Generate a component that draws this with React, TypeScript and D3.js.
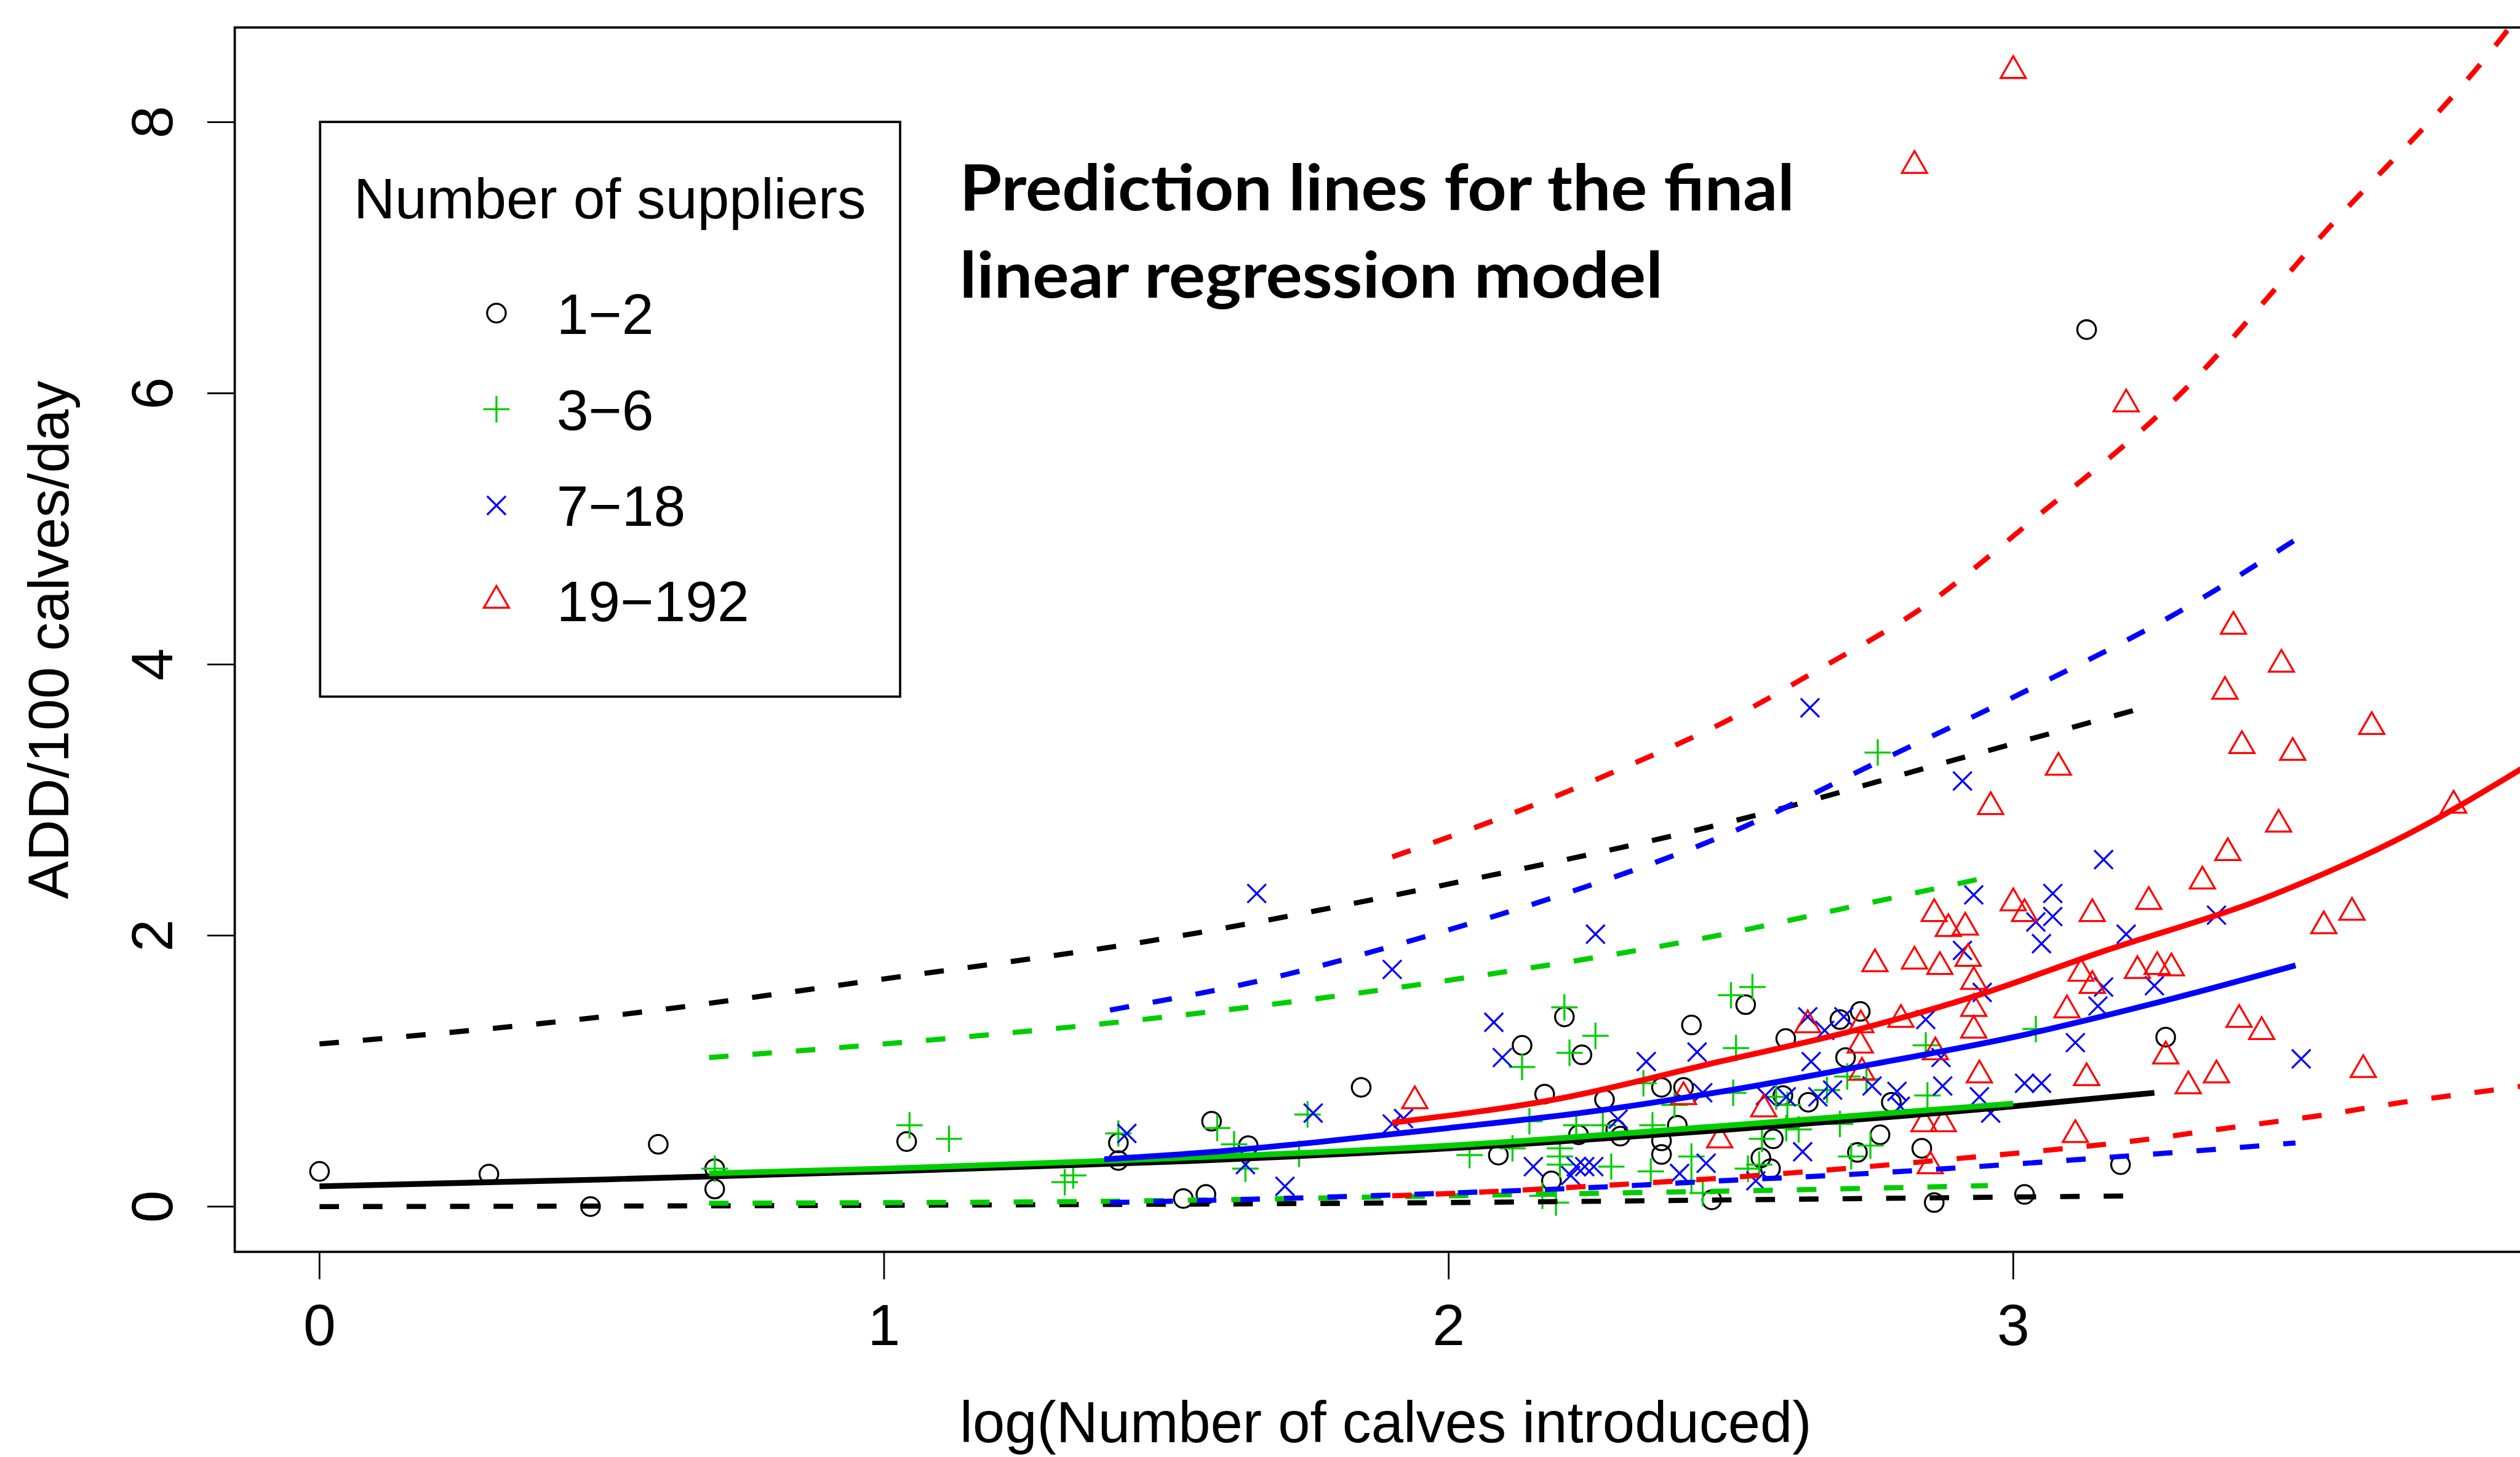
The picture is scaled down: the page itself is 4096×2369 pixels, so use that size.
import React from "react";
import * as d3 from "d3";

// reference is 4401 x 2545, drawn at 0.930 into the 4096 x 2369 window
const S = 4096 / 4401;

const xTicks = [0, 1, 2, 3];
const yTicks = [0, 2, 4, 6, 8];
const groupLabels = ["1\u22122", "3\u22126", "7\u221218", "19\u2212192"];
const groupColors = ["#000000", "#00CD00", "#0000FF", "#FF0000"];

// observed points, [log(calves), ADD/100 calves/day]
const pts12 = [
  [0.0, 0.26], [0.3, 0.24], [0.48, 0.0], [0.6, 0.46], [0.7, 0.28], [0.7, 0.13], [1.04, 0.48],
  [1.415, 0.47], [1.415, 0.34], [1.53, 0.06], [1.57, 0.09], [1.58, 0.63], [1.645, 0.45], [1.845, 0.88],
  [2.088, 0.38], [2.13, 1.19], [2.17, 0.83], [2.182, 0.19], [2.205, 1.4], [2.23, 0.53], [2.236, 1.12],
  [2.276, 0.79], [2.296, 0.57], [2.304, 0.52], [2.377, 0.88], [2.377, 0.485], [2.377, 0.385], [2.405, 0.6],
  [2.416, 0.88], [2.43, 1.34], [2.466, 0.05], [2.526, 1.49], [2.553, 0.36], [2.57, 0.28], [2.575, 0.5],
  [2.592, 0.82], [2.597, 1.24], [2.637, 0.77], [2.693, 1.38], [2.703, 1.1], [2.724, 0.4], [2.729, 1.44],
  [2.764, 0.53], [2.784, 0.77], [2.838, 0.43], [2.86, 0.03], [3.02, 0.09], [3.13, 6.47], [3.19, 0.31],
  [3.27, 1.25],
];
const pts36 = [
  [0.7, 0.28], [1.045, 0.6], [1.115, 0.5], [1.32, 0.18], [1.335, 0.23], [1.415, 0.54], [1.59, 0.58],
  [1.62, 0.46], [1.64, 0.28], [1.735, 0.39], [1.75, 0.68], [2.037, 0.38], [2.113, 0.43], [2.13, 1.03],
  [2.143, 0.63], [2.166, 0.08], [2.19, 0.03], [2.197, 0.43], [2.197, 0.37], [2.197, 0.31], [2.205, 1.47],
  [2.214, 1.135], [2.226, 0.6], [2.26, 1.26], [2.273, 0.6], [2.288, 0.295], [2.345, 0.91], [2.358, 0.26],
  [2.361, 0.6], [2.4, 0.75], [2.43, 0.37], [2.43, 0.19], [2.45, 0.1], [2.5, 1.56], [2.504, 0.84],
  [2.509, 1.17], [2.53, 0.28], [2.538, 1.62], [2.55, 0.31], [2.555, 0.5], [2.58, 0.81], [2.598, 0.58],
  [2.6, 0.75], [2.62, 0.57], [2.67, 0.86], [2.693, 0.61], [2.706, 0.96], [2.713, 0.37], [2.74, 0.94],
  [2.747, 0.45], [2.76, 3.35], [2.845, 1.19], [2.848, 0.82], [3.04, 1.31],
];
const pts718 = [
  [1.43, 0.54], [1.64, 0.31], [1.66, 2.31], [1.71, 0.15], [1.76, 0.69], [1.9, 1.75], [1.9, 0.61],
  [1.92, 0.65], [2.08, 1.36], [2.095, 1.1], [2.15, 0.295], [2.216, 0.23], [2.226, 0.295], [2.241, 0.295],
  [2.257, 0.295], [2.26, 2.01], [2.3, 0.645], [2.35, 1.07], [2.409, 0.245], [2.44, 1.14], [2.45, 0.84],
  [2.456, 0.32], [2.544, 0.19], [2.561, 0.82], [2.598, 0.81], [2.627, 0.405], [2.636, 1.4], [2.64, 3.68],
  [2.642, 1.07], [2.654, 0.81], [2.666, 1.3], [2.68, 0.86], [2.7, 1.4], [2.75, 0.89], [2.794, 0.85],
  [2.8, 0.74], [2.845, 1.38], [2.872, 1.1], [2.875, 0.89], [2.91, 3.14], [2.91, 1.89], [2.93, 2.3],
  [2.94, 0.81], [2.945, 1.58], [2.96, 0.69], [3.02, 0.91], [3.04, 2.1], [3.05, 1.94], [3.05, 0.91],
  [3.07, 2.31], [3.07, 2.14], [3.11, 1.21], [3.15, 1.48], [3.16, 2.56], [3.16, 1.62], [3.2, 2.01],
  [3.25, 1.63], [3.36, 2.15], [3.51, 1.09],
];
const pts19192 = [
  [1.94, 0.78], [2.416, 0.81], [2.48, 0.49], [2.558, 0.72], [2.636, 1.34], [2.729, 1.19], [2.73, 1.34],
  [2.732, 0.99], [2.755, 1.79], [2.801, 1.38], [2.825, 1.81], [2.825, 7.68], [2.842, 0.61], [2.853, 0.3],
  [2.862, 1.14], [2.86, 2.16], [2.876, 0.61], [2.87, 1.77], [2.885, 2.05], [2.915, 2.06], [2.92, 1.83],
  [2.93, 1.66], [2.93, 1.46], [2.93, 1.3], [2.94, 0.97], [2.96, 2.95], [3.0, 8.38], [3.0, 2.24],
  [3.02, 2.16], [3.08, 3.24], [3.095, 1.45], [3.11, 0.53], [3.12, 1.72], [3.13, 0.95], [3.14, 2.16],
  [3.14, 1.63], [3.2, 5.92], [3.22, 1.74], [3.24, 2.25], [3.255, 1.77], [3.27, 1.11], [3.28, 1.76],
  [3.31, 0.89], [3.335, 2.4], [3.36, 0.97], [3.375, 3.8], [3.38, 2.61], [3.39, 4.28], [3.4, 1.38],
  [3.405, 3.4], [3.44, 1.29], [3.47, 2.82], [3.475, 4.0], [3.495, 3.35], [3.55, 2.07], [3.6, 2.17],
  [3.62, 1.01], [3.635, 3.54], [3.78, 2.96],
];

// prediction lines (fit, lower, upper)
const fit12 = [[0, 0.15], [0.5, 0.2], [1, 0.26], [1.5, 0.33], [2, 0.43], [2.5, 0.57], [3, 0.74], [3.25, 0.84]];
const lo12 = [[0, 0.0], [1, 0.01], [2, 0.03], [2.74, 0.06], [3.23, 0.08]];
const hi12 = [[0, 1.2], [0.5, 1.4], [1, 1.68], [1.5, 1.98], [2, 2.38], [2.5, 2.84], [2.9, 3.3], [3.23, 3.68]];

const fit36 = [[0.69, 0.245], [1, 0.28], [1.41, 0.34], [2, 0.45], [2.5, 0.6], [3.0, 0.76]];
const lo36 = [[0.69, 0.025], [1.4, 0.04], [2, 0.08], [2.74, 0.135], [2.955, 0.155]];
const hi36 = [[0.69, 1.1], [1, 1.2], [1.5, 1.4], [2, 1.67], [2.5, 2.02], [2.7, 2.2], [2.955, 2.43]];

const fit718 = [[1.39, 0.35], [1.6, 0.41], [1.8, 0.49], [2, 0.58], [2.25, 0.7], [2.5, 0.86], [2.75, 1.05], [3, 1.25], [3.25, 1.5], [3.5, 1.78]];
const lo718 = [[1.4, 0.03], [1.7, 0.06], [2, 0.1], [2.25, 0.14], [2.48, 0.19], [2.7, 0.235], [2.88, 0.28], [3.04, 0.325], [3.19, 0.37], [3.35, 0.42], [3.5, 0.47]];
const hi718 = [[1.4, 1.45], [1.7, 1.7], [1.94, 1.97], [2.2, 2.3], [2.5, 2.76], [2.77, 3.3], [3.03, 3.82], [3.29, 4.38], [3.5, 4.92]];

const fit19192 = [[1.9, 0.62], [2.2, 0.8], [2.48, 1.07], [2.7, 1.28], [2.93, 1.55], [3.15, 1.87], [3.46, 2.3], [3.7, 2.75], [3.92, 3.28]];
const lo19192 = [[1.9, 0.08], [2.02, 0.1], [2.25, 0.15], [2.48, 0.21], [2.7, 0.28], [2.915, 0.36], [3.07, 0.42], [3.225, 0.49], [3.38, 0.58], [3.54, 0.67], [3.69, 0.77], [3.85, 0.86], [3.92, 0.9]];
const hi19192 = [[1.9, 2.58], [2.1, 2.88], [2.3, 3.22], [2.5, 3.6], [2.65, 3.95], [2.85, 4.45], [3.03, 5.05], [3.29, 5.97], [3.55, 7.18], [3.87, 8.65], [3.95, 9.1]];

const seriesPts = [pts12, pts36, pts718, pts19192];
const seriesLines = [
  [fit12, lo12, hi12],
  [fit36, lo36, hi36],
  [fit718, lo718, hi718],
  [fit19192, lo19192, hi19192],
];

const FONT = "'Liberation Sans', Arial, sans-serif";
const PCH = 16.3; // symbol radius, reference px

function marker(kind: number, cx: number, cy: number, color: string, key: string) {
  const sw = 3.5;
  if (kind === 0) {
    return <circle key={key} cx={cx} cy={cy} r={PCH} fill="none" stroke={color} strokeWidth={sw} />;
  }
  if (kind === 1) {
    const h = PCH * Math.SQRT2;
    return (
      <path key={key} d={`M${cx - h},${cy}H${cx + h}M${cx},${cy - h}V${cy + h}`}
        stroke={color} strokeWidth={sw} fill="none" />
    );
  }
  if (kind === 2) {
    const h = PCH;
    return (
      <path key={key} d={`M${cx - h},${cy - h}L${cx + h},${cy + h}M${cx - h},${cy + h}L${cx + h},${cy - h}`}
        stroke={color} strokeWidth={sw} fill="none" />
    );
  }
  const r = 1.555 * PCH, yc = 0.7776 * PCH, xc = 1.3468 * PCH;
  return (
    <path key={key} d={`M${cx},${cy - r}L${cx + xc},${cy + yc}L${cx - xc},${cy + yc}Z`}
      stroke={color} strokeWidth={sw} fill="none" strokeLinejoin="miter" />
  );
}

export default function App() {
  const frame = { left: 410, right: 4404, top: 48, bottom: 2187 };
  const x = d3.scaleLinear().domain([0, 3]).range([558, 3516]);
  const y = d3.scaleLinear().domain([0, 8]).range([2108, 213.5]);
  const line = d3
    .line<number[]>()
    .x((d) => x(d[0]))
    .y((d) => y(d[1]))
    .curve(d3.curveMonotoneX);

  const legendRows = [547, 715, 883, 1049];

  return (
    <svg width={4096} height={2369} style={{ position: "absolute", left: 0, top: 0, background: "#fff" }}>
      <defs>
        <clipPath id="plotClip">
          <rect x={frame.left} y={frame.top} width={frame.right - frame.left} height={frame.bottom - frame.top} />
        </clipPath>
      </defs>
      <g transform={`scale(${S})`}>
        <rect x={0} y={0} width={4401} height={2545} fill="#fff" />

        {/* points */}
        <g clipPath="url(#plotClip)">
          {seriesPts.map((pts, gi) =>
            pts.map((p, i) => marker(gi, x(p[0]), y(p[1]), groupColors[gi], `p${gi}-${i}`))
          )}
        </g>

        {/* prediction lines */}
        <g clipPath="url(#plotClip)" fill="none">
          {seriesLines.map((ls, gi) => (
            <g key={`l${gi}`} stroke={groupColors[gi]}>
              <path d={line(ls[0]) || ""} strokeWidth={10} />
              <path d={line(ls[1]) || ""} strokeWidth={9} strokeDasharray="34 42" />
              <path d={line(ls[2]) || ""} strokeWidth={9} strokeDasharray="34 42" />
            </g>
          ))}
        </g>

        {/* frame */}
        <rect x={frame.left} y={frame.top} width={frame.right - frame.left} height={frame.bottom - frame.top}
          fill="none" stroke="#000" strokeWidth={4} />

        {/* x axis */}
        {xTicks.map((t) => (
          <g key={`xt${t}`}>
            <line x1={x(t)} x2={x(t)} y1={frame.bottom} y2={frame.bottom + 48} stroke="#000" strokeWidth={3} />
            <text x={x(t)} y={2350} textAnchor="middle" fontFamily={FONT} fontSize={102}>{t}</text>
          </g>
        ))}
        <text x={2420} y={2520} textAnchor="middle" fontFamily={FONT} fontSize={101}>
          log(Number of calves introduced)
        </text>

        {/* y axis */}
        {yTicks.map((t) => (
          <g key={`yt${t}`}>
            <line x1={frame.left - 48} x2={frame.left} y1={y(t)} y2={y(t)} stroke="#000" strokeWidth={3} />
            <text transform={`translate(301,${y(t)}) rotate(-90)`} textAnchor="middle" fontFamily={FONT} fontSize={102}>
              {t}
            </text>
          </g>
        ))}
        <text transform="translate(119,1118) rotate(-90)" textAnchor="middle" fontFamily={FONT} fontSize={100}>
          ADD/100 calves/day
        </text>

        {/* legend */}
        <rect x={559} y={213} width={1013} height={1004} fill="#fff" stroke="#000" strokeWidth={4} />
        <text x={1065} y={381} textAnchor="middle" fontFamily={FONT} fontSize={100}>Number of suppliers</text>
        {groupLabels.map((lab, gi) => (
          <g key={`lg${gi}`}>
            {marker(gi, 867, legendRows[gi], groupColors[gi], `lm${gi}`)}
            <text x={972} y={legendRows[gi] + 36} fontFamily={FONT} fontSize={100}>{lab}</text>
          </g>
        ))}

        {/* annotation */}
        <text x={1676} y={368} fontFamily="Lato, 'Open Sans', sans-serif" fontWeight={700} fontSize={112}
          textLength={1458} lengthAdjust="spacingAndGlyphs">
          Prediction lines for the final
        </text>
        <text x={1676} y={520} fontFamily="Lato, 'Open Sans', sans-serif" fontWeight={700} fontSize={112}
          textLength={1228} lengthAdjust="spacingAndGlyphs">
          linear regression model
        </text>
      </g>
    </svg>
  );
}
